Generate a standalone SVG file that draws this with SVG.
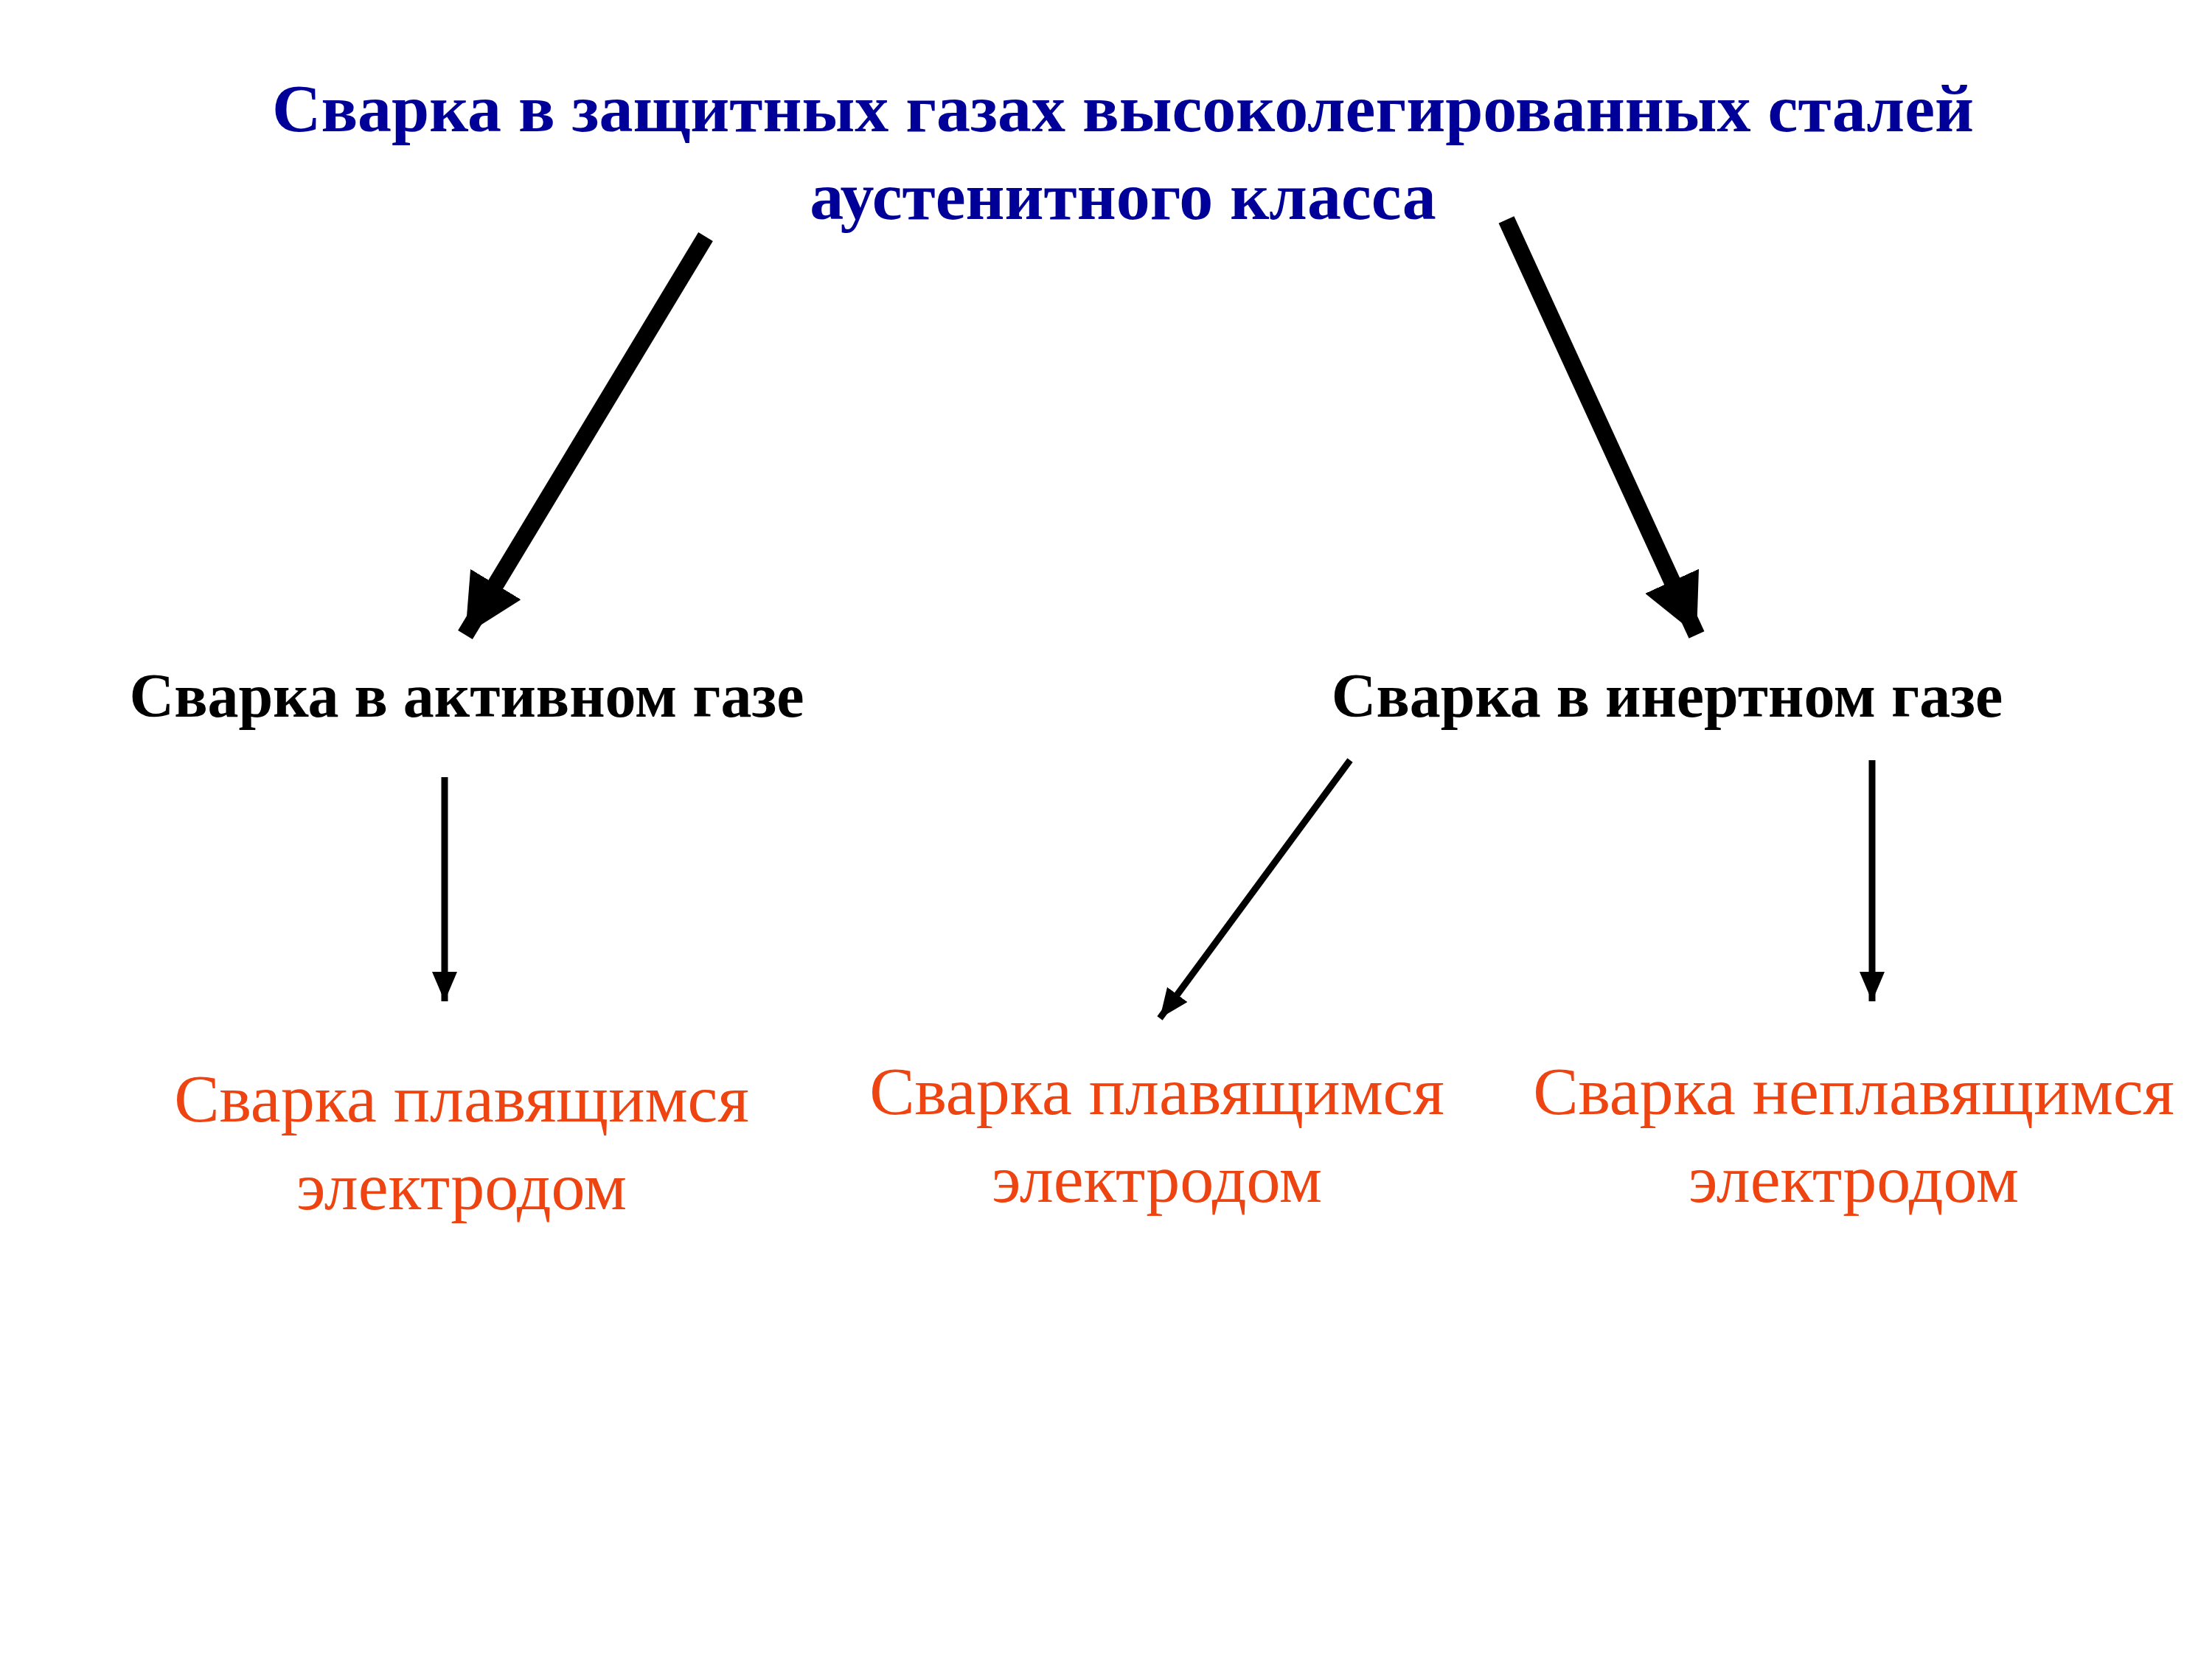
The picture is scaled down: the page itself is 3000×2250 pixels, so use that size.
<svg xmlns="http://www.w3.org/2000/svg" width="3000" height="2250" viewBox="0 0 3000 2250">
<style>
.t{font-family:"Liberation Serif",serif;font-weight:bold;fill:#000099;font-size:92px;text-anchor:middle}
.m{font-family:"Liberation Serif",serif;font-weight:bold;fill:#000;font-size:84px;text-anchor:middle}
.r{font-family:"Liberation Serif",serif;fill:#ee4411;font-size:92px;text-anchor:middle}
.big{stroke:#000;stroke-width:23;fill:none}
.sm{stroke:#000;stroke-width:9;fill:none}
</style>
<defs>
<marker id="hb" markerUnits="userSpaceOnUse" markerWidth="80" markerHeight="80" refX="70" refY="35" orient="auto" viewBox="0 0 70 70"><path d="M0,0 L70,35 L0,70 Z" fill="#000"/></marker>
<marker id="hs" markerUnits="userSpaceOnUse" markerWidth="40" markerHeight="40" refX="40" refY="17" orient="auto" viewBox="0 0 40 34"><path d="M0,0 L40,17 L0,34 Z" fill="#000"/></marker>
</defs>
<rect width="3000" height="2250" fill="#fff"/>
<g id="title"><text class="t" x="1523" y="178">Сварка в защитных газах высоколегированных сталей</text><text class="t" x="1523" y="297">аустенитного класса</text></g>
<g id="active"><text class="m" x="633" y="972">Сварка в активном газе</text></g>
<g id="inert"><text class="m" x="2261" y="972">Сварка в инертном газе</text></g>
<g id="leaf1"><text class="r" x="626" y="1521">Сварка плавящимся</text><text class="r" x="626" y="1640">электродом</text></g>
<g id="leaf2"><text class="r" x="1569" y="1511">Сварка плавящимся</text><text class="r" x="1569" y="1630">электродом</text></g>
<g id="leaf3"><text class="r" x="2514" y="1511">Сварка неплавящимся</text><text class="r" x="2514" y="1630">электродом</text></g>
<g id="connectors">
<line class="big" x1="957" y1="321" x2="631" y2="861" marker-end="url(#hb)"/>
<line class="big" x1="2043" y1="298" x2="2301" y2="861" marker-end="url(#hb)"/>
<line class="sm" x1="603" y1="1054" x2="603" y2="1358" marker-end="url(#hs)"/>
<line class="sm" x1="1831" y1="1031" x2="1573" y2="1381" marker-end="url(#hs)"/>
<line class="sm" x1="2539" y1="1031" x2="2539" y2="1358" marker-end="url(#hs)"/>
</g>
</svg>
